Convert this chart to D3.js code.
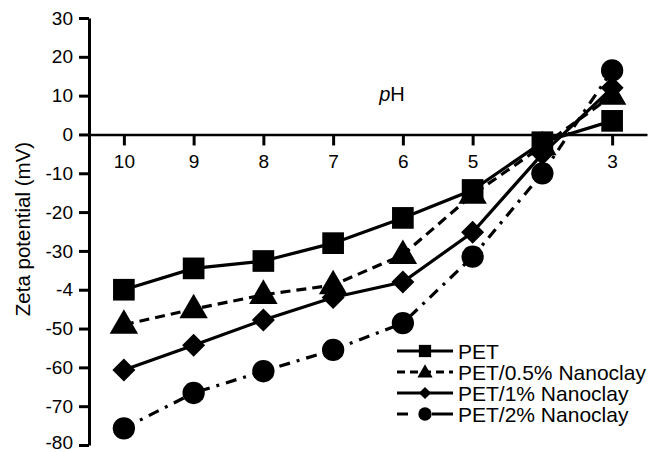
<!DOCTYPE html>
<html>
<head>
<meta charset="utf-8">
<script src="https://cdn.jsdelivr.net/npm/d3@7"></script>
<style>
  body { margin: 0; background: #fff; }
  svg { font-family: Arial, "Liberation Sans", sans-serif; }
</style>
</head>
<body>
<div id="chart"></div>
<script>
// data
var pH = [10, 9, 8, 7, 6, 5, 4, 3];
var pet = [-40, -34.5, -32.6, -28, -21.5, -14.3, -2, 3.5];
var pet05 = [-49, -45, -41.3, -38.8, -31, -15.5, -3, 10];
var pet1 = [-60.7, -54.3, -47.8, -42, -38, -25.2, -5, 12];
var pet2 = [-75.7, -66.6, -61, -55.5, -48.6, -31.5, -10, 16.5];

var seriesNames = ['PET', 'PET/0.5% Nanoclay', 'PET/1% Nanoclay', 'PET/2% Nanoclay'];
var yTicks = [30, 20, 10, 0, -10, -20, -30, -40, -50, -60, -70, -80];
var yTickLabels = ['30', '20', '10', '0', '-10', '-20', '-30', '-4', '-50', '-60', '-70', '-80'];
var xTickLabels = ['10', '9', '8', '7', '6', '5', '', '3'];

var dim = { width: 649, height: 452 };

var svg = d3.select('#chart').append('svg')
    .attr('width', dim.width)
    .attr('height', dim.height);

var x = d3.scaleLinear().domain([10.5, 2.5]).range([89, 647]);
var y = d3.scaleLinear().domain([-80, 30]).range([445, 18]);

var series = [
    { name: seriesNames[0], values: pet, shape: 'square', dash: null, legendDash: null },
    { name: seriesNames[1], values: pet05, shape: 'triangle', dash: '10,6', legendDash: '8,5' },
    { name: seriesNames[2], values: pet1, shape: 'diamond', dash: null, legendDash: null },
    { name: seriesNames[3], values: pet2, shape: 'circle', dash: '11,7,3,7', legendDash: '11,24,30' }
];

// axes
var yAxis = d3.axisLeft(y)
    .tickValues(yTicks)
    .tickFormat(function (d, i) { return yTickLabels[i]; })
    .tickSizeInner(10).tickSizeOuter(0).tickPadding(6);

var gy = svg.append('g')
    .attr('transform', 'translate(89,0)')
    .call(yAxis);
gy.select('.domain').attr('stroke-width', 3);
gy.selectAll('.tick line').attr('stroke-width', 3);
gy.selectAll('text').attr('font-size', 19).attr('fill', '#000');
// bottom label sits on the page edge; lift it a touch
gy.selectAll('.tick text').filter(function (d) { return d === -80; })
    .attr('y', -2.5);

var xAxis = d3.axisBottom(x)
    .tickValues(pH)
    .tickFormat(function (d, i) { return xTickLabels[i]; })
    .tickSizeInner(11).tickSizeOuter(0).tickPadding(9);

var gx = svg.append('g')
    .attr('transform', 'translate(0,' + y(0) + ')')
    .call(xAxis);
gx.select('.domain').attr('stroke-width', 2.5);
gx.selectAll('.tick line').attr('stroke-width', 3);
gx.selectAll('text').attr('font-size', 19).attr('fill', '#000');

svg.append('text')
    .attr('transform', 'translate(30,229) rotate(-90)')
    .attr('text-anchor', 'middle')
    .attr('font-size', 20.5)
    .text('Zeta potential (mV)');

var phLabel = svg.append('text')
    .attr('x', 392).attr('y', 101)
    .attr('text-anchor', 'middle')
    .attr('font-size', 20);
phLabel.append('tspan').attr('font-style', 'italic').text('p');
phLabel.append('tspan').text('H');

// marker symbols
function symbolFor(shape, size) {
    var types = {
        square: d3.symbolSquare,
        triangle: d3.symbolTriangle,
        diamond: d3.symbolSquare,
        circle: d3.symbolCircle
    };
    return d3.symbol().type(types[shape]).size(size)();
}
function markerTransform(shape, px, py) {
    var t = 'translate(' + px + ',' + py + ')';
    if (shape === 'diamond') t += ' rotate(45)';
    if (shape === 'triangle') t += ' translate(0,1)';
    return t;
}
var markerSize = { square: 470, triangle: 350, diamond: 265, circle: 390 };
var legendMarkerSize = { square: 150, triangle: 100, diamond: 75, circle: 140 };

var line = d3.line()
    .x(function (d, i) { return x(pH[i]); })
    .y(function (d) { return y(d); });

series.forEach(function (s) {
    svg.append('path')
        .datum(s.values)
        .attr('d', line)
        .attr('fill', 'none')
        .attr('stroke', '#000')
        .attr('stroke-width', 3.2)
        .attr('stroke-dasharray', s.dash);
});

series.slice().reverse().forEach(function (s) {
    svg.append('g').selectAll('path')
        .data(s.values).enter()
        .append('path')
        .attr('d', symbolFor(s.shape, markerSize[s.shape]))
        .attr('transform', function (d, i) { return markerTransform(s.shape, x(pH[i]), y(d)); })
        .attr('fill', '#000');
});

// legend
var legend = svg.append('g');
series.forEach(function (s, i) {
    var ly = 351 + i * 21;
    legend.append('line')
        .attr('x1', 397).attr('x2', 453)
        .attr('y1', ly).attr('y2', ly)
        .attr('stroke', '#000')
        .attr('stroke-width', 3)
        .attr('stroke-dasharray', s.legendDash);
    legend.append('path')
        .attr('d', symbolFor(s.shape, legendMarkerSize[s.shape]))
        .attr('transform', markerTransform(s.shape, 425, ly))
        .attr('fill', '#000');
    legend.append('text')
        .attr('x', 458).attr('y', ly + 7.5)
        .attr('font-size', 21)
        .text(s.name);
});
</script>
</body>
</html>
